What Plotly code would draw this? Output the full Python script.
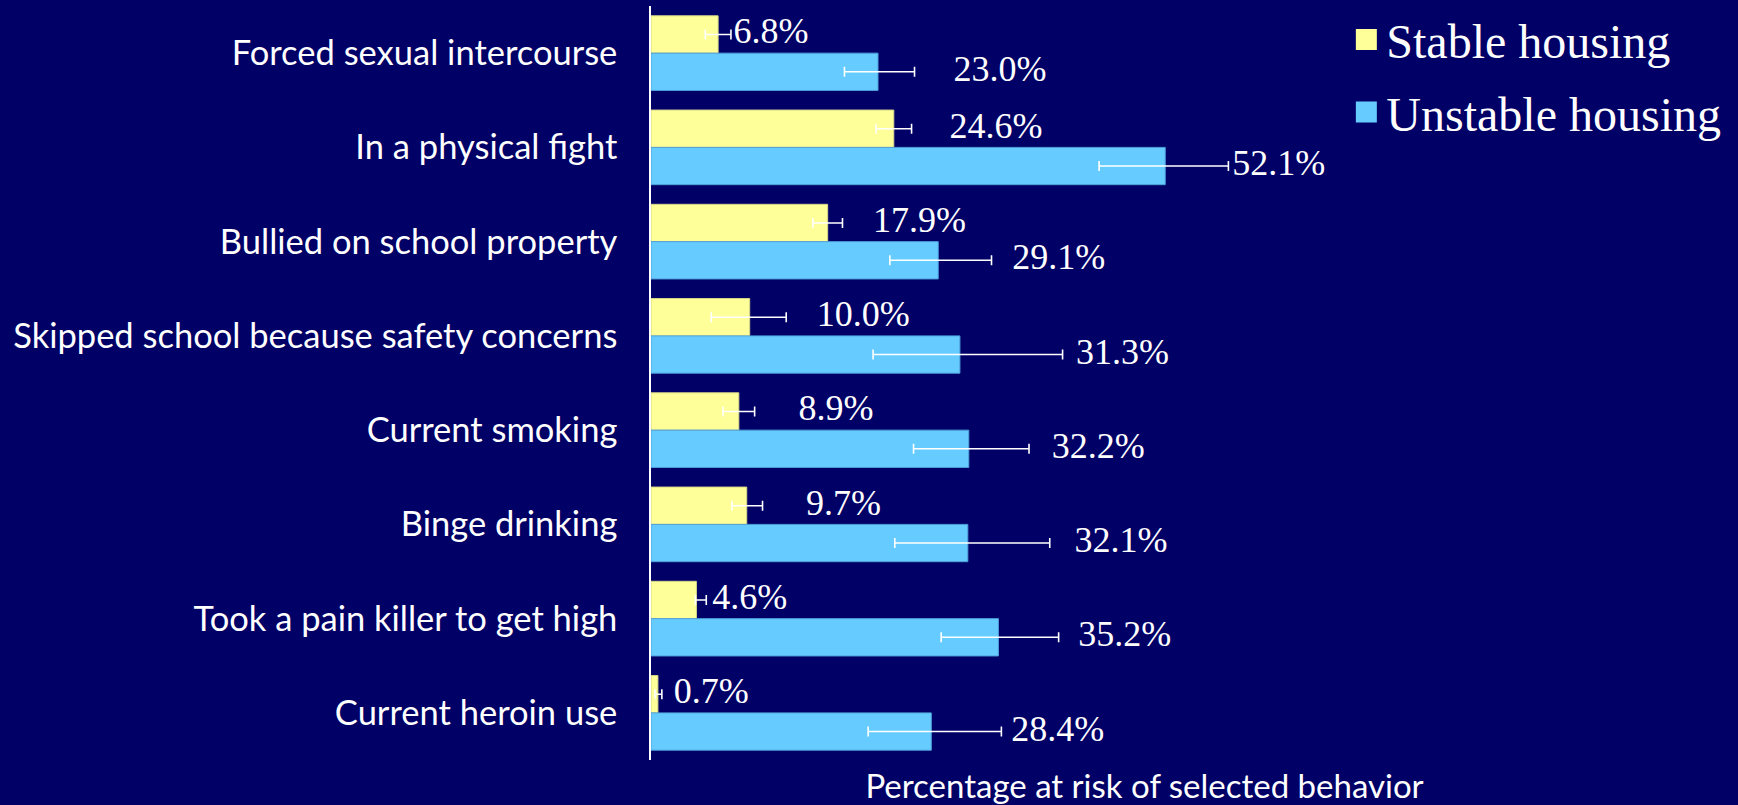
import plotly.graph_objects as go

# ---- data (top to bottom) ----
categories = [
    "Forced sexual intercourse",
    "In a physical fight",
    "Bullied on school property",
    "Skipped school because safety concerns",
    "Current smoking",
    "Binge drinking",
    "Took a pain killer to get high",
    "Current heroin use",
]
stable = [6.8, 24.6, 17.9, 10.0, 8.9, 9.7, 4.6, 0.7]
unstable = [23.0, 52.1, 29.1, 31.3, 32.2, 32.1, 35.2, 28.4]

stable_err_plus = [1.3, 1.8, 1.5, 3.7, 1.6, 1.6, 1.0, 0.4]
stable_err_minus = [1.3, 1.8, 1.5, 3.9, 1.6, 1.5, 0.1, 0.3]
unstable_err_plus = [3.7, 6.4, 5.4, 10.4, 6.1, 8.3, 6.1, 7.1]
unstable_err_minus = [3.4, 6.7, 4.9, 8.8, 5.6, 7.4, 5.8, 6.4]

# label gaps (in % units) after the upper error-bar end, as placed in the original
stable_label_pad = [0.25, 3.85, 3.1, 3.1, 4.45, 4.4, 0.6, 1.2]
unstable_label_pad = [3.95, 0.4, 2.1, 1.35, 2.3, 2.5, 2.0, 1.0]

series_names = ["Stable housing", "Unstable housing"]

# ---- styling ----
BG = "#000066"
YELLOW = "#FFFF99"
BLUE = "#66CCFF"
SERIF = "Liberation Serif, Times New Roman, serif"
SANS = "Lato, Carlito, Calibri, sans-serif"

n = len(categories)
idx = list(range(n))
bar_w = 0.396

fig = go.Figure()

fig.add_trace(go.Bar(
    y=idx, x=stable, orientation="h", width=bar_w, offset=-bar_w,
    marker=dict(color=YELLOW, line=dict(color="#D6D68A", width=1)),
    error_x=dict(type="data", symmetric=False, array=stable_err_plus,
                 arrayminus=stable_err_minus, color="white", thickness=1.6, width=5),
    showlegend=False, hoverinfo="x+text", hovertext=categories,
))
fig.add_trace(go.Bar(
    y=idx, x=unstable, orientation="h", width=bar_w, offset=0,
    marker=dict(color=BLUE, line=dict(color="#4F9FD8", width=1)),
    error_x=dict(type="data", symmetric=False, array=unstable_err_plus,
                 arrayminus=unstable_err_minus, color="white", thickness=1.6, width=5),
    showlegend=False, hoverinfo="x+text", hovertext=categories,
))

# value labels
stable_label_x = [v + e + p for v, e, p in zip(stable, stable_err_plus, stable_label_pad)]
unstable_label_x = [v + e + p for v, e, p in zip(unstable, unstable_err_plus, unstable_label_pad)]
fig.add_trace(go.Scatter(
    x=stable_label_x, y=[i - bar_w / 2 for i in idx], mode="text",
    text=[f"{v:.1f}%" for v in stable], textposition="middle right",
    textfont=dict(family=SERIF, size=36, color="white"),
    showlegend=False, hoverinfo="skip", cliponaxis=False,
))
fig.add_trace(go.Scatter(
    x=unstable_label_x, y=[i + bar_w / 2 for i in idx], mode="text",
    text=[f"{v:.1f}%" for v in unstable], textposition="middle right",
    textfont=dict(family=SERIF, size=36, color="white"),
    showlegend=False, hoverinfo="skip", cliponaxis=False,
))

# legend entries
for name, col in zip(series_names, [YELLOW, BLUE]):
    fig.add_trace(go.Scatter(
        x=[None], y=[None], mode="markers", name=name, legendgroup=name,
        marker=dict(symbol="square", size=16, color=col, line=dict(color=col, width=5)),
    ))

fig.update_layout(
    width=1738, height=805,
    paper_bgcolor=BG, plot_bgcolor=BG,
    margin=dict(l=651, r=100, t=6, b=45, autoexpand=False),
    showlegend=True,
    legend=dict(
        x=0.7045, y=1.0055, xanchor="left", yanchor="top",
        bgcolor="rgba(0,0,0,0)", font=dict(family=SERIF, size=48, color="white"),
        tracegroupgap=7, itemclick=False,
    ),
    xaxis=dict(
        range=[0, 100], showgrid=False, zeroline=False, showline=False,
        showticklabels=False, ticks="", automargin=False, fixedrange=True,
        title=dict(text="Percentage at risk of selected behavior",
                   font=dict(family=SANS, size=33, color="white"), standoff=17),
    ),
    yaxis=dict(
        range=[n - 0.5, -0.5], tickmode="array", tickvals=idx, ticktext=categories,
        showgrid=False, zeroline=False, showline=True, linecolor="white", linewidth=1.5,
        ticks="", ticklabelstandoff=25, automargin=False, fixedrange=True,
        tickfont=dict(family=SANS, size=34.5, color="white"),
    ),
)

fig.write_html("out.html", config={"displayModeBar": False},
               post_script="document.body.style.margin='0';")
